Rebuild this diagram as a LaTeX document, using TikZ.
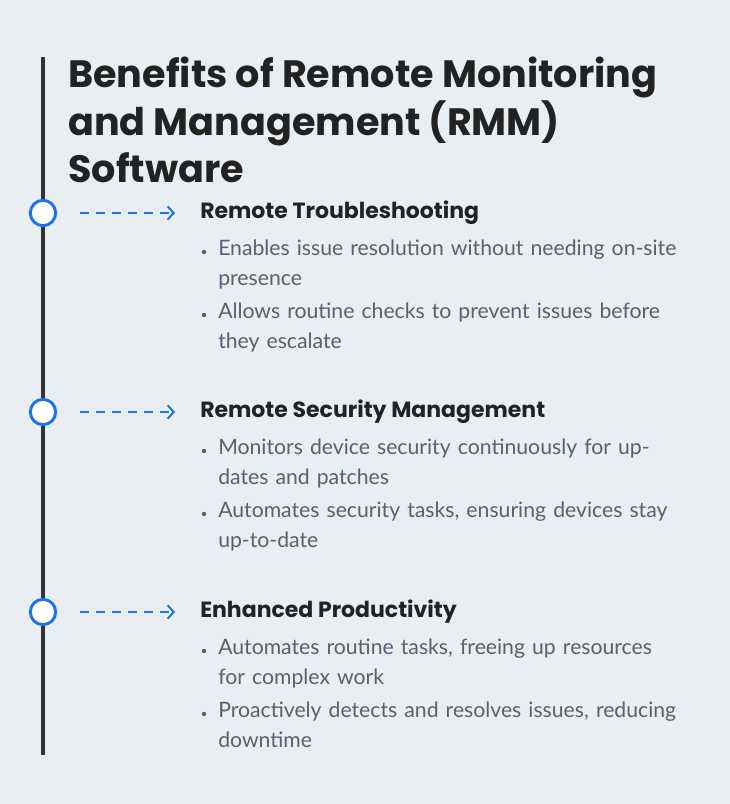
\documentclass[tikz,border=0pt]{standalone}
\usepackage{fontspec}
\setmainfont{Poppins}
\newfontfamily\bodyfont{Lato}
\usetikzlibrary{arrows.meta}
\definecolor{bgc}{HTML}{E8EEF2}
\definecolor{linec}{HTML}{333333}
\definecolor{bluec}{HTML}{1A73F0}
\definecolor{txtc}{HTML}{5A5F73}
\definecolor{headc}{HTML}{222222}
\tikzset{
  marker/.style={circle,draw=bluec,line width=2.2pt,fill=white,minimum size=19pt,inner sep=0pt},
  pointer/.style={bluec,line width=1.5pt,dash pattern=on 7pt off 5pt,-{Straight Barb[length=4.5pt,width=10pt]}},
  heading/.style={anchor=west,font=\fontsize{16.5}{19}\selectfont\bfseries,text=headc,inner sep=0pt},
  bullet/.style={anchor=north west,font=\bodyfont\fontsize{15.9}{22.5}\selectfont,text=txtc,inner sep=0pt,text width=346pt,align=left}
}
\begin{document}
\begin{tikzpicture}[x=0.75pt,y=-0.75pt]
\fill[bgc] (0,0) rectangle (730,804);
\useasboundingbox (0,0) rectangle (730,804);
\coordinate (top) at (43,57);
\coordinate (bot) at (43,755);
\draw[linec,line width=2.6pt] (top) -- (bot);
\node[anchor=north west,inner sep=0pt,font=\fontsize{28.6}{35.5}\selectfont\bfseries,text=headc,align=left] (title) at (68,57)
  {Benefits of Remote Monitoring\\and Management (RMM)\\Software};
% benefit groups
\foreach \y/\head/\one/\two [count=\i] in {
  213/Remote Troubleshooting/{Enables issue resolution without needing on-site presence}/{Allows routine checks to prevent issues before they escalate},
  412/Remote Security Management/{Monitors device security continuously for updates and patches}/{Automates security tasks, ensuring devices stay up-to-date},
  612/Enhanced Productivity/{Automates routine tasks, freeing up resources for complex work}/{Proactively detects and resolves issues, reducing downtime}}
{
  \node[marker] (m\i) at (43,\y) {};
  \coordinate (s\i) at (80,\y);
  \coordinate (e\i) at (175,\y);
  \draw[pointer] (s\i) -- (e\i);
  \node[heading] (h\i) at (200,\y) {\head};
  \node[bullet] (a\i) at (218,\y+27) {\one};
  \node[bullet] (b\i) at (218,\y+90) {\two};
  \fill[txtc] (204,\y+39) circle (2.2);
  \fill[txtc] (204,\y+102) circle (2.2);
}
\end{tikzpicture}
\end{document}
